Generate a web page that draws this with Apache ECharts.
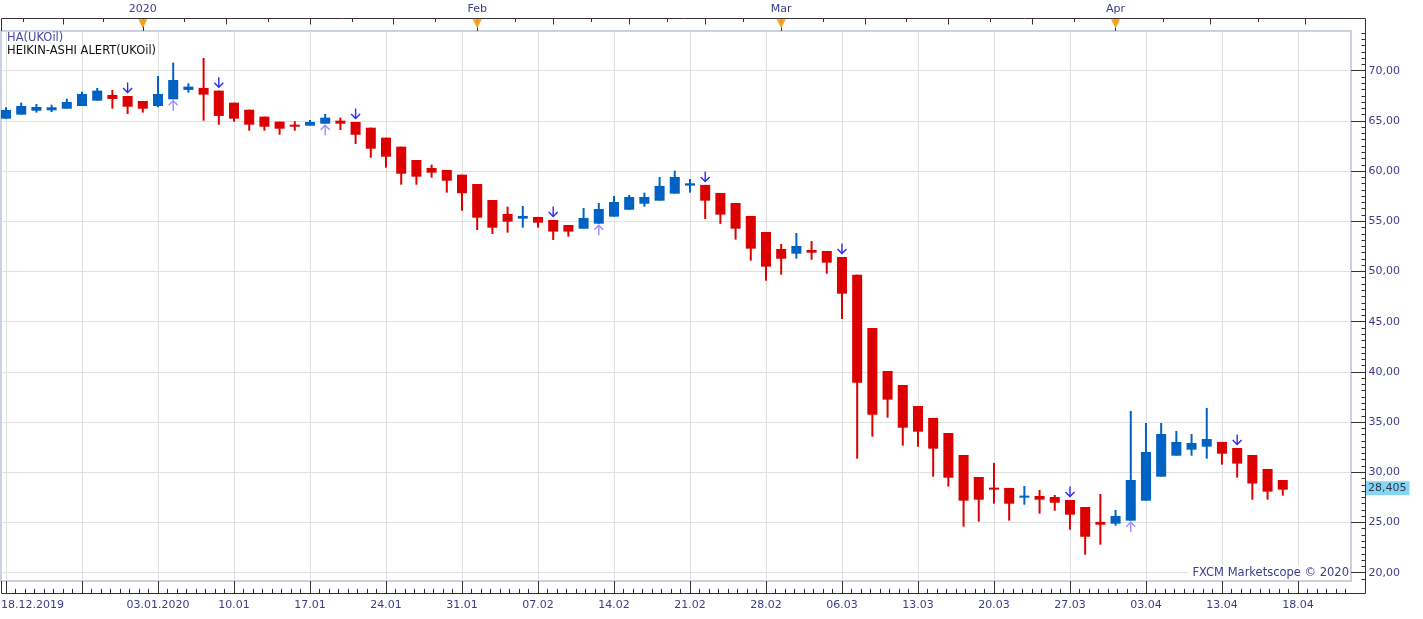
<!DOCTYPE html>
<html>
<head>
<meta charset="utf-8">
<title>HA(UKOil)</title>
<script src="https://cdn.jsdelivr.net/npm/echarts@6/dist/echarts.min.js"></script>
<style>
  html, body { margin: 0; padding: 0; background: #fff; }
  #chart { width: 1423px; height: 619px; }
</style>
</head>
<body>
<div id="chart"></div>
<script>
// Heikin-Ashi candles, one per trading day starting 18.12.2019
const haOpen = [65.22, 65.62, 66.01, 66.05, 66.21, 66.48, 67.01, 67.58, 67.48, 66.98,
  66.48, 67.15, 68.08, 68.28, 68.01, 66.81, 66.11, 65.42, 64.92, 64.62,
  64.52, 64.72, 65.02, 64.89, 64.32, 63.33, 62.43, 61.10, 60.31, 60.11,
  59.64, 58.71, 57.12, 55.73, 55.26, 55.43, 55.13, 54.63, 54.26, 54.76,
  55.46, 56.15, 56.75, 57.05, 57.75, 58.55, 58.62, 57.82, 56.82, 55.53,
  53.93, 52.24, 51.77, 52.14, 52.04, 51.44, 49.68, 44.37, 40.09, 38.69,
  36.60, 35.41, 33.91, 31.72, 29.53, 28.47, 28.44, 27.57, 27.64, 27.54,
  27.24, 26.54, 25.05, 24.88, 25.18, 27.17, 29.56, 31.65, 32.25, 32.55,
  33.02, 32.42, 31.72, 30.33, 29.23]
const haClose = [66.08, 66.48, 66.38, 66.35, 66.88, 67.68, 68.01, 67.18, 66.41, 66.21,
  67.68, 69.07, 68.41, 67.61, 65.49, 65.22, 64.62, 64.42, 64.22, 64.49,
  64.89, 65.32, 64.72, 63.62, 62.23, 61.43, 59.74, 59.44, 59.84, 59.04,
  57.79, 55.36, 54.36, 54.96, 55.53, 54.86, 53.97, 53.97, 55.33, 56.22,
  56.92, 57.42, 57.42, 58.52, 59.41, 58.78, 57.05, 55.66, 54.26, 52.27,
  50.48, 51.27, 52.54, 51.87, 50.88, 47.79, 38.92, 35.74, 37.23, 34.44,
  34.04, 32.35, 29.46, 27.17, 27.27, 28.27, 26.87, 27.67, 27.27, 26.97,
  25.78, 23.58, 24.78, 25.65, 29.23, 32.02, 33.81, 33.02, 32.92, 33.31,
  31.85, 30.86, 28.88, 28.07, 28.27]
const haLow = [65.22, 65.62, 65.82, 65.88, 66.21, 66.48, 67.01, 66.21, 65.69, 65.82,
  66.35, 67.15, 67.81, 65.02, 64.62, 64.92, 64.02, 64.02, 63.62, 64.02,
  64.52, 64.72, 64.09, 62.70, 61.33, 60.34, 58.64, 58.64, 59.34, 57.85,
  56.05, 54.13, 53.73, 53.87, 54.36, 54.36, 53.14, 53.47, 54.26, 54.76,
  55.46, 56.15, 56.45, 57.05, 57.75, 57.85, 55.23, 54.73, 53.17, 51.08,
  49.08, 49.68, 51.27, 51.17, 49.78, 45.27, 31.35, 33.55, 35.44, 32.65,
  32.55, 29.56, 28.57, 24.58, 25.08, 26.87, 25.18, 26.77, 25.88, 26.17,
  24.28, 21.79, 22.79, 24.68, 25.18, 27.17, 29.56, 31.65, 31.65, 31.35,
  30.76, 29.47, 27.27, 27.27, 27.67]
const haHigh = [66.35, 66.81, 66.68, 66.61, 67.21, 67.91, 68.28, 68.08, 67.48, 66.98,
  69.47, 70.80, 68.74, 71.26, 68.01, 66.81, 66.11, 65.42, 64.92, 64.96,
  65.09, 65.69, 65.32, 64.89, 64.32, 63.33, 62.43, 61.10, 60.64, 60.11,
  59.64, 58.71, 57.12, 56.45, 56.52, 55.43, 55.13, 54.63, 56.32, 56.82,
  57.52, 57.62, 57.85, 59.41, 60.04, 59.21, 58.62, 57.82, 56.82, 55.53,
  53.93, 52.74, 53.83, 53.04, 52.04, 51.44, 49.68, 44.37, 40.09, 38.69,
  36.60, 35.41, 33.91, 31.72, 29.53, 30.93, 28.44, 28.63, 28.24, 27.74,
  27.24, 26.54, 27.84, 26.25, 36.11, 34.91, 34.91, 34.11, 33.81, 36.41,
  33.02, 32.42, 31.72, 30.33, 29.23]

// HEIKIN-ASHI ALERT signals (candle positions)
const downAlerts = [8, 14, 23, 36, 46, 55, 70, 81]
const upAlerts = [11, 21, 39, 74]
const lastPrice = 28.405

// bottom date axis
const weekIdx = [0, 5, 10, 15, 20, 25, 30, 35, 40, 45, 50, 55, 60, 65, 70, 75, 80, 85]
const dayLabelIdx = [0, 10, 15, 20, 25, 30, 35, 40, 45, 50, 55, 60, 65, 70, 75, 80, 85]
const dayLabels = ['18.12.2019', '03.01.2020', '10.01', '17.01', '24.01', '31.01', '07.02', '14.02',
  '21.02', '28.02', '06.03', '13.03', '20.03', '27.03', '03.04', '13.04', '18.04']

// top month axis
const monthIdx = [9, 31, 51, 73]
const monthLabels = ['2020', 'Feb', 'Mar', 'Apr']
const monthLongTicks = [3.75, 14.5, 20, 25.5, 36, 41, 46, 56.5, 62, 67.5, 79.25, 85.5]
const monthShortTicks = [1.125, 6.375, 11.75, 17.25, 22.75, 28.25, 33.5, 38.5, 43.5, 48.5,
  53.75, 59.25, 64.75, 70.25, 76.125, 82.375]

// price axis
const priceTicks = [20, 25, 30, 35, 40, 45, 50, 55, 60, 65, 70]

const X_MIN = -0.33, X_MAX = 88.49
const Y_MIN = 19.17, Y_MAX = 73.95
const FONT = 'DejaVu Sans'
const LABEL = '#3c3c8c'
const UP = '#0062c2'
const DOWN = '#dc0000'

let dayMinor = []
for (let v = 0; v <= X_MAX; v += 0.625) dayMinor.push(v)
let priceMinor = []
for (let v = 19.375; v <= Y_MAX; v += 0.625) priceMinor.push(v)

const candles = haOpen.map((o, i) => [i, o, haClose[i], haLow[i], haHigh[i]])

function drawCandle(params, api) {
  const i = api.value(0)
  const o = api.value(1), c = api.value(2)
  const pO = api.coord([i, o]), pC = api.coord([i, c])
  const pL = api.coord([i, api.value(3)]), pH = api.coord([i, api.value(4)])
  const w = api.size([1, 0])[0] * 0.66
  const color = c > o ? UP : DOWN
  const top = Math.min(pO[1], pC[1])
  const h = Math.max(Math.abs(pO[1] - pC[1]), 2)
  return {
    type: 'group',
    children: [
      {type: 'rect', shape: {x: pH[0] - 1, y: pH[1], width: 2, height: pL[1] - pH[1]}, style: {fill: color}},
      {type: 'rect', shape: {x: pO[0] - w / 2, y: top, width: w, height: h}, style: {fill: color}}
    ]
  }
}

function arrowDrawer(down, color) {
  return function (params, api) {
    const p = api.coord([api.value(0), api.value(1)])
    const x = p[0]
    const tip = down ? p[1] - 3.5 : p[1] + 1.5
    const tail = down ? tip - 10 : tip + 10
    const head = down ? tip - 4.5 : tip + 4.5
    const st = {stroke: color, lineWidth: 1.4, fill: null}
    return {
      type: 'group',
      children: [
        {type: 'line', shape: {x1: x, y1: tail, x2: x, y2: tip}, style: st},
        {type: 'polyline', shape: {points: [[x - 4.5, head], [x, tip], [x + 4.5, head]]}, style: st}
      ]
    }
  }
}

function drawMonthMark(params, api) {
  const x = api.coord([api.value(0), Y_MAX])[0]
  const top = params.coordSys.y
  return {
    type: 'polygon',
    shape: {points: [[x - 4.5, top - 11.8], [x + 4.5, top - 11.8], [x, top - 2.8]]},
    style: {fill: '#f6a11a'}
  }
}

let chart = echarts.init(document.getElementById('chart'))
let option = {
  animation: false,
  backgroundColor: '#fff',
  textStyle: {fontFamily: FONT},
  title: [
    {text: 'HA(UKOil)', left: 7, top: 32, padding: 0,
      textStyle: {fontSize: 11.5, fontWeight: 'normal', color: '#4848a4', fontFamily: FONT}},
    {text: 'HEIKIN-ASHI ALERT(UKOil)', left: 7, top: 45, padding: 0,
      textStyle: {fontSize: 11.5, fontWeight: 'normal', color: '#111', fontFamily: FONT}},
    {text: 'FXCM Marketscope © 2020', right: 73, bottom: 39, padding: [1, 1, 1, 4], backgroundColor: '#fff',
      textStyle: {fontSize: 11.5, fontWeight: 'normal', color: LABEL, fontFamily: FONT}}
  ],
  grid: {
    left: 1, right: 72, top: 31, bottom: 38,
    show: true, borderColor: '#c9d2de', borderWidth: 2,
    outerBoundsMode: 'none'
  },
  xAxis: [
    { // dates, weekly grid
      type: 'value', min: X_MIN, max: X_MAX, position: 'bottom', offset: 12.5,
      axisLine: {show: false, onZero: false},
      axisTick: {show: true, inside: true, length: 12.5, customValues: weekIdx, lineStyle: {color: '#333'}},
      splitLine: {show: true, lineStyle: {color: '#e0e0e0', width: 1}},
      axisLabel: {
        show: true, customValues: dayLabelIdx, margin: 6, fontSize: 11, color: LABEL, fontFamily: FONT,
        formatter: function (v) {
          const t = dayLabels[dayLabelIdx.indexOf(v)]
          return v === 0 ? '{first|' + t + '}' : t
        },
        rich: {first: {padding: [0, 0, 0, 53], fontSize: 11, color: LABEL, fontFamily: FONT}}
      }
    },
    { // daily sub ticks
      type: 'value', min: X_MIN, max: X_MAX, position: 'bottom', offset: 12.5,
      axisLine: {show: false, onZero: false},
      axisTick: {show: true, inside: true, length: 4.7, customValues: dayMinor, lineStyle: {color: '#333'}},
      axisLabel: {show: false}, splitLine: {show: false}
    },
    { // months on top
      type: 'value', min: X_MIN, max: X_MAX, position: 'top', offset: 12.5,
      axisLine: {show: false, onZero: false},
      axisTick: {show: true, inside: true, length: 6, customValues: monthLongTicks, lineStyle: {color: '#333'}},
      splitLine: {show: false},
      axisLabel: {
        show: true, customValues: monthIdx, margin: 4, fontSize: 11, color: LABEL, fontFamily: FONT,
        formatter: function (v) { return monthLabels[monthIdx.indexOf(v)] }
      }
    },
    {
      type: 'value', min: X_MIN, max: X_MAX, position: 'top', offset: 12.5,
      axisLine: {show: false, onZero: false},
      axisTick: {show: true, inside: true, length: 3.5, customValues: monthShortTicks, lineStyle: {color: '#333'}},
      axisLabel: {show: false}, splitLine: {show: false}
    },
    {
      type: 'value', min: X_MIN, max: X_MAX, position: 'top', offset: 12.5,
      axisLine: {show: false, onZero: false},
      axisTick: {show: true, inside: true, length: 12.5, customValues: monthIdx, lineStyle: {color: '#333'}},
      axisLabel: {show: false}, splitLine: {show: false}
    }
  ],
  yAxis: [
    {
      type: 'value', min: Y_MIN, max: Y_MAX, position: 'right', offset: 14.5,
      axisLine: {show: false, onZero: false},
      axisTick: {show: true, inside: true, length: 14.5, customValues: priceTicks, lineStyle: {color: '#333'}},
      splitLine: {show: true, lineStyle: {color: '#e0e0e0', width: 1}},
      axisLabel: {
        show: true, customValues: priceTicks, margin: 3, fontSize: 11, color: LABEL, fontFamily: FONT,
        formatter: function (v) { return v.toFixed(2).replace('.', ',') }
      }
    },
    {
      type: 'value', min: Y_MIN, max: Y_MAX, position: 'right', offset: 14.5,
      axisLine: {show: false, onZero: false},
      axisTick: {show: true, inside: true, length: 4, customValues: priceMinor, lineStyle: {color: '#333'}},
      axisLabel: {show: false}, splitLine: {show: false}
    }
  ],
  // outer frame around the plot and its axes
  graphic: [
    {
      type: 'polyline', silent: true, z: 10,
      shape: {points: [[1.5, 31], [1.5, 18.5], [1365.5, 18.5], [1365.5, 593.5], [1.5, 593.5], [1.5, 581]]},
      style: {stroke: '#333', lineWidth: 1, fill: null}
    }
  ],
  series: [
    {
      name: 'HA(UKOil)', type: 'custom', xAxisIndex: 0, yAxisIndex: 0,
      renderItem: drawCandle, data: candles,
      encode: {x: 0, y: [1, 2, 3, 4]}
    },
    {
      name: 'down', type: 'custom', xAxisIndex: 0, yAxisIndex: 0,
      renderItem: arrowDrawer(true, '#2c2cf0'),
      data: downAlerts.map(i => [i, haHigh[i]]), encode: {x: 0, y: 1}
    },
    {
      name: 'up', type: 'custom', xAxisIndex: 0, yAxisIndex: 0,
      renderItem: arrowDrawer(false, '#9a8cff'),
      data: upAlerts.map(i => [i, haLow[i]]), encode: {x: 0, y: 1}
    },
    {
      name: 'months', type: 'custom', xAxisIndex: 2, yAxisIndex: 0, clip: false,
      renderItem: drawMonthMark, data: monthIdx.map(i => [i]), encode: {x: 0}
    },
    { // last price tag on the price scale
      name: 'last', type: 'scatter', xAxisIndex: 0, yAxisIndex: 0, clip: false, silent: true,
      symbolSize: 0, z: 12,
      data: [[X_MAX, lastPrice]],
      label: {
        show: true, position: 'right', distance: 15,
        formatter: function (p) { return p.value[1].toFixed(3).replace('.', ',') },
        backgroundColor: '#6cc8f4', color: '#111', padding: [2, 3, 1, 2],
        fontSize: 11, fontFamily: FONT
      }
    }
  ]
}
chart.setOption(option)
</script>
</body>
</html>
